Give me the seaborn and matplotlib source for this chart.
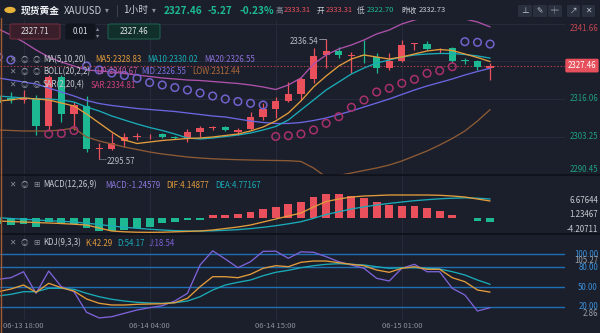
import numpy as np
import pandas as pd
import matplotlib
matplotlib.use("Agg")
import matplotlib.pyplot as plt
import seaborn as sns
from matplotlib.patches import FancyBboxPatch, Circle
from matplotlib.lines import Line2D

# ---------------- data ----------------
opens = [2317.1, 2316.4, 2315.7, 2316.5, 2306.8, 2323.6, 2311.0, 2313.7, 2298.9, 2299.0,
         2301.8, 2303.0, 2303.3, 2304.0, 2303.0, 2302.6, 2304.7, 2306.3, 2306.6, 2304.9,
         2305.8, 2309.8, 2312.6, 2315.5, 2317.8, 2322.9, 2331.0, 2332.4, 2330.7, 2331.1,
         2330.3, 2326.5, 2329.1, 2334.9, 2334.8, 2332.9, 2333.6, 2329.2, 2329.1, 2326.6]
closes = [2314.7, 2315.7, 2316.5, 2306.8, 2323.7, 2311.0, 2314.0, 2298.9, 2299.2, 2301.1,
          2303.2, 2303.3, 2303.5, 2303.0, 2302.8, 2304.9, 2306.1, 2306.5, 2305.5, 2305.5,
          2309.8, 2312.6, 2315.5, 2317.8, 2322.9, 2330.7, 2332.4, 2331.0, 2330.9, 2330.9,
          2326.5, 2329.1, 2334.5, 2335.1, 2333.1, 2333.1, 2329.1, 2329.0, 2327.1, 2327.46]
highs = [2318.2, 2318.5, 2319.1, 2317.4, 2324.2, 2324.2, 2315.1, 2317.1, 2301.0, 2304.5,
         2304.5, 2304.4, 2304.1, 2304.5, 2303.4, 2305.7, 2306.8, 2306.8, 2306.9, 2306.1,
         2311.7, 2314.6, 2316.8, 2322.0, 2323.7, 2333.4, 2336.54, 2333.9, 2332.2, 2336.2,
         2331.7, 2331.7, 2336.2, 2335.3, 2336.0, 2333.4, 2333.9, 2330.0, 2329.4, 2328.4]
lows = [2314.0, 2314.6, 2314.7, 2303.8, 2305.5, 2308.3, 2305.5, 2298.1, 2295.57, 2298.7,
        2299.8, 2302.1, 2302.5, 2302.7, 2302.3, 2301.5, 2303.2, 2305.5, 2305.2, 2303.8,
        2305.5, 2308.9, 2309.5, 2315.1, 2315.7, 2321.4, 2326.5, 2330.0, 2324.8, 2328.2,
        2324.8, 2326.0, 2328.8, 2332.8, 2332.8, 2331.7, 2328.2, 2327.9, 2326.0, 2322.7]

ma5 = [2315.38, 2315.72, 2316.40, 2316.06, 2315.72, 2314.69, 2313.67, 2310.94, 2307.87, 2304.80,
       2302.07, 2300.87, 2301.38, 2301.90, 2302.24, 2302.58, 2302.75, 2303.09, 2303.60, 2304.11,
       2305.14, 2306.50, 2308.55, 2311.28, 2315.38, 2320.16, 2323.91, 2327.32, 2329.71, 2331.08,
       2330.39, 2329.71, 2330.39, 2331.42, 2332.44, 2332.95, 2332.61, 2331.42, 2330.22, 2328.83]
ma10 = [2317.08, 2316.74, 2316.40, 2316.06, 2316.06, 2315.72, 2315.04, 2313.33, 2311.96, 2310.26,
        2308.89, 2307.53, 2306.33, 2305.31, 2304.11, 2302.75, 2302.41, 2302.75, 2303.26, 2303.77,
        2304.46, 2305.48, 2306.67, 2308.89, 2312.31, 2315.72, 2319.13, 2321.86, 2324.59, 2326.64,
        2328.35, 2329.37, 2330.39, 2331.08, 2331.42, 2331.59, 2331.59, 2331.25, 2330.74, 2330.02]
ma20_mid = [2323.23, 2322.54, 2321.86, 2321.18, 2319.81, 2318.45, 2317.08, 2315.55, 2314.52, 2313.84,
            2313.33, 2312.82, 2312.48, 2312.14, 2311.79, 2311.28, 2310.77, 2310.26, 2309.92, 2309.23,
            2308.55, 2308.04, 2307.70, 2307.70, 2308.04, 2308.72, 2309.58, 2310.77, 2311.96, 2313.33,
            2314.69, 2316.06, 2317.60, 2319.13, 2320.50, 2321.69, 2322.89, 2324.25, 2325.45, 2326.55]
boll_up = [2339.95, 2337.90, 2335.51, 2332.78, 2330.39, 2328.69, 2327.32, 2325.96, 2325.62, 2325.28,
           2324.76, 2324.25, 2323.74, 2323.23, 2322.89, 2322.54, 2322.37, 2322.03, 2321.69, 2321.35,
           2320.84, 2320.16, 2319.30, 2320.84, 2323.23, 2328.01, 2331.08, 2333.13, 2334.49, 2336.20,
           2338.24, 2339.61, 2341.66, 2343.02, 2344.05, 2344.22, 2343.88, 2343.36, 2342.34, 2340.67]
boll_low = [2305.48, 2305.31, 2305.14, 2305.14, 2305.14, 2305.48, 2306.16, 2303.09, 2301.73, 2300.70,
            2299.68, 2298.82, 2297.97, 2297.29, 2296.78, 2296.26, 2295.92, 2295.65, 2295.48, 2295.34,
            2295.24, 2295.14, 2295.07, 2295.00, 2294.73, 2292.51, 2289.44, 2289.95, 2290.80, 2291.66,
            2292.51, 2293.53, 2294.90, 2296.61, 2298.31, 2300.36, 2302.58, 2305.14, 2308.55, 2312.44]
sar = [2330.39, 2329.37, np.nan, np.nan, 2304.11, 2304.29, 2305.31, 2327.32, 2325.96, 2324.93,
       2324.08, 2323.12, 2321.69, 2320.84, 2319.98, 2319.13, 2318.11, 2317.08, 2316.06, 2315.21,
       2314.59, 2314.01, 2303.26, 2303.53, 2304.11, 2305.48, 2307.77, 2310.02, 2313.23, 2315.72,
       2318.45, 2319.71, 2321.42, 2322.78, 2324.83, 2325.72, 2327.08, 2335.62, 2335.41, 2334.81]

macd_hist = [-2.22, -2.48, -2.11, -3.11, -1.40, -1.90, -2.00, -3.70, -4.70, -4.70,
             -4.44, -3.70, -3.11, -1.85, -1.48, -0.74, -0.52, 1.22, 1.22, 1.48,
             2.44, 3.33, 4.30, 5.19, 6.15, 8.00, 9.00, 9.00, 8.37, 7.63,
             5.93, 4.93, 4.67, 4.67, 3.70, 2.70, 1.22, 0.22, -1.00, -1.25]
dif = [-1.00, -1.19, -1.37, -1.56, -1.74, -1.93, -2.19, -2.48, -3.59, -4.70,
       -5.00, -5.15, -5.19, -5.15, -5.00, -4.85, -4.70, -4.33, -3.78, -3.22,
       -2.48, -1.37, -0.26, 0.85, 1.96, 4.19, 6.22, 7.15, 7.89, 8.26,
       8.44, 8.63, 8.63, 8.63, 8.63, 8.52, 8.26, 7.89, 7.15, 6.41]
dea = [0.22, -0.07, -0.33, -0.63, -0.89, -1.11, -1.37, -1.81, -2.30, -2.85,
       -3.30, -3.70, -4.04, -4.33, -4.56, -4.70, -4.70, -4.63, -4.44, -4.19,
       -3.81, -3.33, -2.74, -2.04, -1.26, 0.00, 1.41, 2.44, 3.44, 4.26,
       4.93, 5.52, 6.04, 6.52, 6.89, 7.22, 7.44, 7.59, 7.44, 7.15]

k_vals = [42.90, 47.02, 53.13, 41.98, 55.73, 49.01, 43.97, 31.76, 25.19, 22.60,
          22.60, 23.66, 24.12, 24.58, 26.11, 32.82, 50.53, 65.80, 65.80, 64.27,
          69.47, 78.63, 82.60, 81.07, 87.79, 89.77, 89.77, 87.18, 84.73, 82.60,
          76.03, 72.52, 78.63, 81.07, 77.10, 77.10, 64.27, 58.17, 45.50, 42.29]
d_vals = [36.34, 38.93, 42.90, 42.90, 48.09, 48.09, 46.56, 40.46, 35.27, 31.30,
          28.70, 26.72, 25.65, 25.19, 26.11, 28.70, 35.27, 45.50, 53.13, 57.25,
          60.76, 67.33, 72.52, 75.57, 79.54, 82.60, 84.73, 85.65, 84.73, 83.66,
          81.07, 78.63, 79.54, 79.54, 78.63, 77.56, 73.44, 68.40, 60.76, 54.17]
j_vals = [61.83, 64.27, 73.44, 40.46, 74.50, 50.53, 42.90, 11.45, 2.86, 4.73,
          9.92, 14.96, 18.47, 21.53, 28.70, 40.46, 83.66, 105.27, 92.82, 79.54,
          88.70, 104.50, 104.80, 93.89, 103.80, 103.05, 96.34, 88.70, 83.66, 78.63,
          63.36, 59.24, 78.63, 84.73, 73.44, 73.44, 48.09, 37.86, 13.44, 18.54]

time_pos = [2, 12, 22, 32]
time_labels = ["06-13 18:00", "06-14 04:00", "06-14 15:00", "06-15 01:00"]
price_grid = [2341.66, 2328.86, 2316.06, 2303.25, 2290.45]
price_labels = [2341.66, 2316.06, 2303.25, 2290.45]
last_price = 2327.46
macd_ticks = [6.67644, 1.23467, -4.20711]
kdj_levels = [100, 80, 50, 20]

# ---------------- style ----------------
sns.set_theme(style="dark")
plt.rcParams["font.family"] = ["Noto Sans CJK SC", "DejaVu Sans"]
plt.rcParams["axes.unicode_minus"] = False

BG = "#1b1f2b"
GRID = "#262b39"
RED = "#e9505c"
GREEN = "#1db992"
C_MA5 = "#e39c3c"
C_MA10 = "#1aabb8"
C_MID = "#6b65e0"
C_UP = "#ad52aa"
C_LOW = "#8d5a35"
C_SAR_HI = "#7262cc"
C_SAR_LO = "#a8306c"
C_J = "#7d62d8"
TXT = "#c9ccd3"
GRAY = "#8a909c"
FS = 5.7   # legend font size
FA = 5.7   # axis label font size

W, H = 600, 333
fig = plt.figure(figsize=(6, 3.33), dpi=100, facecolor=BG)

def fx(x):
    return x / W

def fy(y):
    return 1 - y / H

idx = np.arange(len(opens))
XMIN, XMAX = 0.135, 44.94
RX = 598 / 565  # right-aligned label position (axes fraction)

def panel(top, bottom):
    ax = fig.add_axes([0, fy(bottom), 565 / W, (bottom - top) / H])
    ax.set_facecolor(BG)
    for s in ax.spines.values():
        s.set_visible(False)
    ax.tick_params(left=False, bottom=False, right=False, labelleft=False, labelbottom=False)
    ax.grid(False)
    ax.set_xlim(XMIN, XMAX)
    ax.set_xlabel("")
    ax.set_ylabel("")
    for t in time_pos:
        ax.axvline(t, color=GRID, lw=0.8, zorder=0)
    return ax

# ---------------- main panel ----------------
ax = panel(20, 175)
ax.set_ylim(2290.12, 2343.02)
for v in price_grid:
    ax.axhline(v, color=GRID, lw=0.8, zorder=0)

df = pd.DataFrame(dict(idx=idx, open=opens, high=highs, low=lows, close=closes))
colors = np.where(df.close >= df.open, RED, GREEN)
ax.vlines(df.idx, df.low, df.high, colors=colors, lw=0.9, zorder=3)
body_lo = np.minimum(df.open, df.close)
body_h = np.maximum((df.close - df.open).abs(), 0.25)
ax.bar(df.idx, body_h, bottom=body_lo, width=0.58, color=colors, linewidth=0, zorder=4)

for arr, col in [(boll_up, C_UP), (boll_low, C_LOW), (ma20_mid, C_MID), (ma10, C_MA10), (ma5, C_MA5)]:
    sns.lineplot(x=idx, y=arr, ax=ax, color=col, lw=0.95, zorder=5, legend=False)

sar_arr = np.array(sar)
cl = np.array(closes)
above = sar_arr > cl
ax.scatter(idx[above], sar_arr[above], s=30, facecolors="none", edgecolors=C_SAR_HI, linewidths=1.1, zorder=6)
below = sar_arr < cl
ax.scatter(idx[below], sar_arr[below], s=30, facecolors="none", edgecolors=C_SAR_LO, linewidths=1.1, zorder=6)

ax.axhline(last_price, color="#a03a4a", lw=0.8, ls=(0, (1.5, 1.5)), zorder=2)

# high / low annotations
i_hi = int(np.argmax(highs))
i_lo = int(np.argmin(lows))
ax.plot([i_hi - 0.6, i_hi], [highs[i_hi]] * 2, color="#9aa0aa", lw=0.6, zorder=6)
ax.annotate(f"{highs[i_hi]:.2f}", xy=(i_hi - 0.65, highs[i_hi]), xytext=(0, -2),
            textcoords="offset points", ha="right", va="center", color="#b8bcc6", fontsize=FA)
ax.plot([i_lo, i_lo + 0.55], [lows[i_lo]] * 2, color="#9aa0aa", lw=0.7, ls=(0, (1, 1)), zorder=6)
ax.annotate(f"{lows[i_lo]:.2f}", xy=(i_lo + 0.6, lows[i_lo]), xytext=(0, -2),
            textcoords="offset points", ha="left", va="center", color="#b8bcc6", fontsize=FA)

tr = ax.get_yaxis_transform()
for v in price_labels:
    c = "#c44552" if v > last_price else "#1f9e80"
    va = "center"
    if v == max(price_labels):
        va = "top"
    elif v == min(price_labels):
        va = "bottom"
    ax.text(RX, v, f"{v:.2f}", transform=tr, ha="right", va=va, color=c, fontsize=FA, clip_on=False)
ax.text(RX - 0.003, last_price, f"{last_price:.2f}", transform=tr, ha="right", va="center", color="white",
        fontsize=FA, clip_on=False, zorder=10,
        bbox=dict(boxstyle="round,pad=0.3,rounding_size=0.2", fc="#e5505c", ec="none"))

# ---------------- MACD panel ----------------
ax2 = panel(175, 234)
ax2.set_ylim(-5.81, 16.04)
hist = np.array(macd_hist)
ax2.bar(idx, hist, width=0.62, color=np.where(hist >= 0, RED, GREEN), linewidth=0, zorder=3)
sns.lineplot(x=idx, y=dea, ax=ax2, color=C_MA10, lw=0.95, zorder=4, legend=False)
sns.lineplot(x=idx, y=dif, ax=ax2, color=C_MA5, lw=0.95, zorder=4, legend=False)
tr2 = ax2.get_yaxis_transform()
for v in macd_ticks:
    ax2.text(RX, v, f"{v:.5f}", transform=tr2, ha="right", va="center", color=TXT, fontsize=FA, clip_on=False)

# ---------------- KDJ panel ----------------
ax3 = panel(234, 320)
ax3.set_ylim(-0.3, 131.0)
for v in kdj_levels:
    ax3.axhline(v, color="#1f6fb3", lw=1.0, zorder=1)
sns.lineplot(x=idx, y=j_vals, ax=ax3, color=C_J, lw=0.95, zorder=4, legend=False)
sns.lineplot(x=idx, y=d_vals, ax=ax3, color=C_MA10, lw=0.95, zorder=4, legend=False)
sns.lineplot(x=idx, y=k_vals, ax=ax3, color=C_MA5, lw=0.95, zorder=4, legend=False)
tr3 = ax3.get_yaxis_transform()
for v in kdj_levels:
    ax3.text(RX, v, f"{v:.2f}", transform=tr3, ha="right", va="center", color="#3b8fd9", fontsize=FA, clip_on=False)
ax3.annotate(f"{max(j_vals):.2f}", xy=(RX, 100), xycoords=tr3, xytext=(0, -4.5), textcoords="offset points",
             ha="right", va="center", color="#9aa0aa", fontsize=FA)
ax3.annotate(f"{min(j_vals):.2f}", xy=(RX, 20), xycoords=tr3, xytext=(0, -5.2), textcoords="offset points",
             ha="right", va="center", color="#9aa0aa", fontsize=FA)
ax3.set_xticks(time_pos)
ax3.set_xticklabels(time_labels)
ax3.tick_params(bottom=False, labelbottom=True, length=0, pad=1.5, labelsize=5.5, labelcolor=GRAY)

# ---------------- frame lines ----------------
for y in (175, 234):
    fig.add_artist(Line2D([0, 1], [fy(y), fy(y)], color="#0d1017", lw=1.2, transform=fig.transFigure))
fig.add_artist(Line2D([fx(0.6), fx(0.6)], [0, fy(18)], color="#a45a32", lw=1.0, transform=fig.transFigure))

# ---------------- header ----------------
fig.add_artist(Circle((fx(10), fy(10)), 0.0095, transform=fig.transFigure, fc="#e6b23a", ec="none"))

def T(x, y, s, c=TXT, size=FS, **kw):
    fig.text(fx(x), fy(y), s, color=c, fontsize=size, va="center", ha=kw.pop("ha", "left"), **kw)

T(21, 10.5, "现货黄金", "#eceef2", 7.0, weight="bold")
T(64, 10.5, "XAUUSD", TXT, 7.0)
T(105, 10.5, "▾", GRAY, 5.5)
fig.add_artist(Line2D([fx(117), fx(117)], [fy(5), fy(16)], color="#3a3f4c", lw=0.8, transform=fig.transFigure))
T(123, 10.5, "1小时", TXT, 7.0)
T(152, 10.5, "▾", GRAY, 5.5)
T(164, 10.5, "2327.46", GREEN, 7.2, weight="bold")
T(208, 10.5, "-5.27", GREEN, 7.2, weight="bold")
T(239, 10.5, "-0.23%", GREEN, 7.2, weight="bold")
T(276, 10.5, "高", GRAY, 5.5)
T(284, 10.5, "2333.31", RED, 5.5)
T(317, 10.5, "开", TXT, 5.5)
T(326, 10.5, "2333.31", RED, 5.5)
T(357, 10.5, "低", TXT, 5.5)
T(367, 10.5, "2322.70", GREEN, 5.5)
T(401, 10.5, "昨收", TXT, 5.5)
T(419, 10.5, "2332.73", TXT, 5.5)

for (x0, x1, g) in [(518, 532, "⊥"), (533, 547, "✎"), (548, 562, "╪"), (567, 580, "↗"), (582, 595, "✕")]:
    fig.add_artist(FancyBboxPatch((fx(x0), fy(17)), fx(x1 - x0), 12 / H, transform=fig.transFigure,
                                  boxstyle="round,pad=0,rounding_size=0.003", fc="#2b303e", ec="none"))
    T((x0 + x1) / 2, 11, g, "#c0c4cc", 5.5, ha="center")

# order boxes
for (x0, x1, fc, ec, s) in [(10, 60, "#3a1f2a", "#6e2c3a", "2327.71"), (66, 95, "#11151e", "#11151e", "0.01"),
                            (108, 160, "#12302b", "#1e5c4e", "2327.46")]:
    fig.add_artist(FancyBboxPatch((fx(x0), fy(39)), fx(x1 - x0), 15 / H, transform=fig.transFigure,
                                  boxstyle="round,pad=0,rounding_size=0.004", fc=fc, ec=ec, lw=0.8))
    T((x0 + x1) / 2, 31.5, s, "#dfe2e8", FA, ha="center")
T(98, 28, "▴", GRAY, 4.5, ha="center")
T(98, 35, "▾", GRAY, 4.5, ha="center")

# legends
def icons(y, third="⚙"):
    T(12, y, "✕", GRAY, 5.5, ha="center")
    T(24, y, "◎", GRAY, 5.5, ha="center")
    T(36, y, third, GRAY, 5.5, ha="center")

icons(60, "◎")
T(43, 60, "MA(5,10,20)", TXT)
T(95, 60, "MA5:2328.83", C_MA5)
T(147, 60, "MA10:2330.02", C_MA10)
T(204, 60, "MA20:2326.55", "#8c70dc")
icons(72, "◎")
T(43, 72, "BOLL(20,2,2)", TXT)
T(96, 72, "UP:2340.67", "#c054a4")
T(141, 72, "MID:2326.55", "#7b6fe2")
T(192, 72, "LOW:2312.44", "#b06c3c")
icons(85, "◎")
T(43, 85, "SAR(2,20,4)", TXT)
T(91, 85, "SAR:2334.81", "#d2407e")

icons(185, "⊞")
T(43, 185, "MACD(12,26,9)", TXT)
T(105, 185, "MACD:-1.24579", "#8c78e0")
T(166, 185, "DIF:4.14877", C_MA5)
T(215, 185, "DEA:4.77167", C_MA10)
icons(243, "⊞")
T(43, 243, "KDJ(9,3,3)", TXT)
T(85, 243, "K:42.29", C_MA5)
T(117, 243, "D:54.17", C_MA10)
T(149, 243, "J:18.54", C_J)

fig.savefig("out.png", dpi=100, facecolor=BG)
